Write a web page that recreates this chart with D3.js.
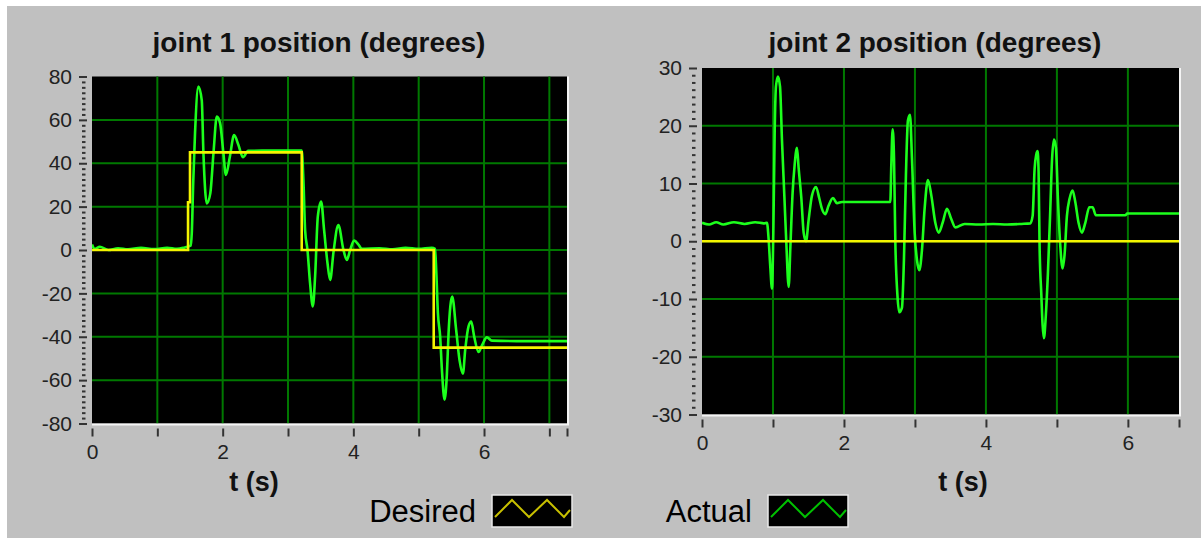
<!DOCTYPE html>
<html>
<head>
<meta charset="utf-8">
<script src="https://cdn.jsdelivr.net/npm/d3@7"></script>
<style>
  body { margin: 0; background: #fff; }
  svg { display: block; font-family: "Liberation Sans", Arial, sans-serif; }
</style>
</head>
<body>
<svg></svg>
<script>
// joint 1, [t (s), degrees]
const desired1 = [[0, 0], [1.47, 0], [1.47, 22], [1.50, 22], [1.50, 45], [3.21, 45], [3.21, 0],
  [5.23, 0], [5.23, -45], [7.27, -45]];
const actual1 = [[0, 2.5], [0.04, 0.5], [0.12, 1.5], [0.25, 0], [0.4, 0.8], [0.55, 0.3], [0.75, 1],
  [0.95, 0.4], [1.15, 1], [1.3, 0.5], [1.42, 1.2], [1.51, 2], [1.527, 7.7], [1.55, 32], [1.577, 54],
  [1.628, 75.4], [1.68, 69], [1.705, 45], [1.757, 21.5], [1.81, 26], [1.86, 45], [1.91, 61.5],
  [1.96, 58.5], [2.01, 45], [2.05, 34.6], [2.11, 43], [2.175, 53], [2.24, 48.5], [2.31, 42.8],
  [2.39, 45.7], [2.6, 45.8], [3.0, 45.8], [3.21, 45.8], [3.236, 32], [3.262, 9], [3.298, 0],
  [3.338, -15.4], [3.38, -26], [3.415, -12], [3.456, 15.4], [3.507, 22.3], [3.553, 9], [3.604, -6],
  [3.645, -13.8], [3.696, -1], [3.77, 11.5], [3.849, 0], [3.9, -4.6], [3.951, 0], [4.012, 4.3],
  [4.078, 2.5], [4.13, 0.5], [4.4, 0.8], [4.6, 0.3], [4.8, 1], [5.0, 0.5], [5.2, 1], [5.25, 0.5],
  [5.268, -9], [5.294, -29], [5.329, -40], [5.355, -55], [5.396, -69], [5.432, -57], [5.457, -38.5],
  [5.513, -21.5], [5.574, -37], [5.625, -50.7], [5.677, -57], [5.712, -46], [5.763, -35.2],
  [5.804, -33], [5.85, -40], [5.916, -47], [5.968, -44], [6.044, -40.3], [6.12, -41.8], [6.5, -42],
  [7.27, -42]];

// joint 2, [t (s), degrees]
const desired2 = [[0, 0], [6.72, 0]];
const actual2 = [[0, 3.2], [0.1, 2.9], [0.2, 3.3], [0.3, 2.9], [0.45, 3.3], [0.6, 3.0], [0.75, 3.3],
  [0.88, 3.1], [0.915, 3.2], [0.939, 0.3], [0.962, -4.4], [0.986, -8.2], [1.006, 2.6], [1.024, 19],
  [1.042, 26.8], [1.07, 28.5], [1.099, 26.8], [1.127, 17.4], [1.16, 7.9], [1.188, -0.3],
  [1.221, -7.9], [1.245, -1], [1.277, 8.5], [1.305, 13.2], [1.338, 16.2], [1.362, 12.6], [1.4, 7.4],
  [1.432, 1.5], [1.465, 0], [1.503, 3.8], [1.549, 7.9], [1.606, 9.4], [1.653, 7.4], [1.69, 5.6],
  [1.737, 4.7], [1.784, 6.2], [1.845, 7.5], [1.901, 6.6], [1.972, 6.8], [2.653, 6.8], [2.667, 13.2],
  [2.686, 19.4], [2.705, 14.4], [2.724, -0.3], [2.752, -9.1], [2.78, -12.3], [2.817, -11.5],
  [2.845, -3.2], [2.873, 11.5], [2.901, 20.9], [2.93, 21.9], [2.958, 14.4], [2.996, 1.5],
  [3.028, -3.2], [3.062, -5], [3.099, -1.5], [3.136, 5.6], [3.183, 10.6], [3.231, 7.9], [3.287, 3.2],
  [3.334, 1.5], [3.39, 3.2], [3.451, 5.6], [3.513, 3.8], [3.569, 2.4], [3.7, 3.0], [3.9, 2.9],
  [4.1, 3.0], [4.3, 2.9], [4.5, 3.0], [4.625, 3.1], [4.658, 4.4], [4.686, 12.6], [4.709, 15],
  [4.728, 15.6], [4.742, 12], [4.756, -0.9], [4.78, -9.1], [4.798, -14.4], [4.817, -16.8],
  [4.845, -12.6], [4.873, -5.6], [4.907, 5.6], [4.93, 13.8], [4.958, 17.6], [4.986, 16.2],
  [5.014, 7.4], [5.048, -0.9], [5.08, -4.7], [5.108, -2.3], [5.141, 4.4], [5.179, 7.4], [5.221, 8.8],
  [5.259, 6.8], [5.305, 3.2], [5.352, 1.5], [5.4, 3.2], [5.456, 5.9], [5.503, 5.9], [5.549, 4.5],
  [5.963, 4.5], [5.99, 4.8], [6.72, 4.8]];

// axes
const xMax1 = 7.27, xMax2 = 6.72;
const xTicks1 = [0, 1, 2, 3, 4, 5, 6, 7, xMax1];
const xTicks2 = [0, 1, 2, 3, 4, 5, 6, xMax2];
const yTicks1 = [80, 60, 40, 20, 0, -20, -40, -60, -80];
const yTicks2 = [30, 20, 10, 0, -10, -20, -30];
const titles = ["joint 1 position (degrees)", "joint 2 position (degrees)"];
const legendLabels = ["Desired", "Actual"];

const width = 1203, height = 541;
const svg = d3.select("svg").attr("width", width).attr("height", height);

svg.append("rect").attr("x", 7).attr("y", 6).attr("width", 1194).attr("height", 532)
  .attr("fill", "#c0c0c0");

function drawPanel(cfg) {
  const x = d3.scaleLinear().domain([0, cfg.xMax]).range([cfg.left, cfg.right]);
  const y = d3.scaleLinear().domain(cfg.yDomain).range([cfg.bottom, cfg.top]);
  const g = svg.append("g");

  g.append("text")
    .attr("x", cfg.titleX).attr("y", 52)
    .attr("text-anchor", "middle")
    .style("font-size", "28px").style("font-weight", "bold").style("fill", "#111")
    .text(cfg.title);

  g.append("rect")
    .attr("x", cfg.left).attr("y", cfg.top)
    .attr("width", cfg.right - cfg.left).attr("height", cfg.bottom - cfg.top)
    .attr("fill", "#000");

  // grid
  const grid = g.append("g").style("stroke", "#007800").style("stroke-width", 2);
  grid.selectAll(".gx").data(cfg.xTicks.filter(d => d > 0 && d < cfg.xMax)).enter()
    .append("line")
    .attr("x1", d => x(d)).attr("x2", d => x(d))
    .attr("y1", cfg.top).attr("y2", cfg.bottom);
  grid.selectAll(".gy").data(cfg.yTicks.filter(d => d > cfg.yDomain[0] && d < cfg.yDomain[1])).enter()
    .append("line")
    .attr("x1", cfg.left).attr("x2", cfg.right)
    .attr("y1", d => y(d)).attr("y2", d => y(d));

  // white sunken edge
  g.append("path")
    .attr("d", `M${cfg.left},${cfg.bottom + 1}H${cfg.right + 1}V${cfg.top}`)
    .attr("fill", "none").attr("stroke", "#f4f4f4").attr("stroke-width", 2);

  const clipId = "clip" + cfg.id;
  g.append("clipPath").attr("id", clipId).append("rect")
    .attr("x", cfg.left).attr("y", cfg.top)
    .attr("width", cfg.right - cfg.left).attr("height", cfg.bottom - cfg.top);

  const smooth = d3.line().x(d => x(d[0])).y(d => y(d[1])).curve(d3.curveMonotoneX);
  const step = d3.line().x(d => x(d[0])).y(d => y(d[1]));

  g.append("path")
    .attr("clip-path", `url(#${clipId})`)
    .attr("d", smooth(cfg.actual))
    .attr("fill", "none").attr("stroke", "#1cff1c").attr("stroke-width", 2.6)
    .attr("stroke-linejoin", "round");

  g.append("path")
    .attr("clip-path", `url(#${clipId})`)
    .attr("d", step(cfg.desired))
    .attr("fill", "none").attr("stroke", "#f4f400").attr("stroke-width", 2.6);

  // y axis: major + minor ticks
  const yAxis = g.append("g")
    .attr("transform", `translate(${cfg.left - 5},0)`)
    .call(d3.axisLeft(y).tickValues(cfg.yTicks).tickSize(8).tickPadding(7)
      .tickFormat(d => String(d)));
  const minor = d3.range(cfg.yDomain[0], cfg.yDomain[1] + 0.001, cfg.yMinor)
    .filter(v => !cfg.yTicks.includes(v));
  const yMinorAxis = g.append("g")
    .attr("transform", `translate(${cfg.left - 6.5},0)`)
    .call(d3.axisLeft(y).tickValues(minor).tickSize(3.5).tickFormat(""));

  const xAxis = g.append("g")
    .attr("transform", `translate(0,${cfg.bottom + 5})`)
    .call(d3.axisBottom(x).tickValues(cfg.xTicks).tickSize(8).tickPadding(8)
      .tickFormat(d => (Number.isInteger(d) && d % 2 === 0) ? String(d) : ""));

  [yAxis, yMinorAxis, xAxis].forEach(a => {
    a.select(".domain").remove();
    a.selectAll("line").attr("stroke", "#333").attr("stroke-width", 2);
    a.selectAll("text").style("font-size", "21px").style("fill", "#222")
      .style("font-family", "'Liberation Sans', Arial, sans-serif");
  });

  g.append("text")
    .attr("x", cfg.xLabelX).attr("y", 491)
    .attr("text-anchor", "middle")
    .style("font-size", "27px").style("font-weight", "bold").style("fill", "#111")
    .text("t (s)");
}

drawPanel({ id: 1, title: titles[0], titleX: 319, xLabelX: 254,
  left: 92, right: 567, top: 76.5, bottom: 423.5,
  xMax: xMax1, yDomain: [-80, 80], yMinor: 2.5,
  xTicks: xTicks1, yTicks: yTicks1, desired: desired1, actual: actual1 });

drawPanel({ id: 2, title: titles[1], titleX: 935, xLabelX: 963,
  left: 702, right: 1179, top: 68, bottom: 414.5,
  xMax: xMax2, yDomain: [-30, 30], yMinor: 1.25,
  xTicks: xTicks2, yTicks: yTicks2, desired: desired2, actual: actual2 });

// legend
const legendColors = ["#c8c000", "#00c000"];
const legendX = [476, 752];
const zig = d3.line();
legendLabels.forEach((label, i) => {
  const lg = svg.append("g");
  lg.append("text")
    .attr("x", legendX[i]).attr("y", 522)
    .attr("text-anchor", "end")
    .style("font-size", "31px").style("fill", "#000")
    .text(label);
  const bx = legendX[i] + 16;
  lg.append("rect").attr("x", bx).attr("y", 495).attr("width", 80).attr("height", 32)
    .attr("fill", "#000").attr("stroke", "#e8e8e8").attr("stroke-width", 1.5);
  const pts = [[3, 22], [20, 5], [37, 22], [55, 5], [72, 22], [78, 15]].map(p => [bx + p[0], 495 + p[1]]);
  lg.append("path").attr("d", zig(pts))
    .attr("fill", "none").attr("stroke", legendColors[i]).attr("stroke-width", 2);
});
</script>
</body>
</html>
